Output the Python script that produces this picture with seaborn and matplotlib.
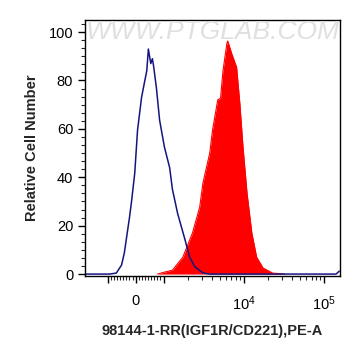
import numpy as np
import pandas as pd
import seaborn as sns
import matplotlib.pyplot as plt
from matplotlib.ticker import MultipleLocator, FixedLocator

# positions on the x axis are in "decade" display units (10^4 -> 4)
control_x = [2.02, 2.30, 2.325, 2.41, 2.475, 2.51, 2.575, 2.60, 2.64, 2.675, 2.725, 2.76, 2.79, 2.81,
             2.84, 2.86, 2.875, 2.91, 2.95, 3.01, 3.075, 3.11, 3.175, 3.26, 3.325, 3.39, 3.49, 3.575,
             5.15, 5.19]
control_y = [0, 0, 0, 0.4, 3.7, 8.7, 23.5, 30, 41.7, 59.5, 73, 79, 84, 93,
             87, 89, 86, 77, 63.6, 52.5, 44, 35, 25, 15, 7, 3, 0.5, 0,
             0, 1.2]

stained_x = [2.925, 3.01, 3.11, 3.24, 3.36, 3.45, 3.49, 3.575, 3.61, 3.675, 3.71, 3.74, 3.79, 3.80,
             3.85, 3.91, 3.95, 3.99, 4.04, 4.10, 4.16, 4.24, 4.36, 4.51]
stained_y = [0, 0.8, 1.6, 7, 17, 27.7, 37.6, 50, 59.5, 72, 72.7, 84, 95.5, 96.3,
             91, 85.5, 70.7, 52.5, 33.5, 17, 7, 2.5, 0.4, 0]

xtick_pos = [2.31, 2.65, 3, 4, 5]
xtick_labels = ['', '0', '', r'$\mathregular{10^4}$', r'$\mathregular{10^5}$']

sns.set_style('ticks')
plt.rcParams['font.family'] = ['Liberation Sans', 'DejaVu Sans']
plt.rcParams['mathtext.fontset'] = 'custom'
plt.rcParams['mathtext.rm'] = 'Liberation Sans'

fig = plt.figure(figsize=(3.61, 3.56), dpi=100)
ax = fig.add_axes([0.2355, 0.2247, 0.7065, 0.7191])

red = pd.DataFrame({'x': stained_x, 'y': stained_y})
blue = pd.DataFrame({'x': control_x, 'y': control_y})

ax.fill_between(red['x'], red['y'], color='#ff0000', lw=0)
sns.lineplot(data=red, x='x', y='y', color='#ff0000', lw=0.8, ax=ax)
sns.lineplot(data=blue, x='x', y='y', color='#15157f', lw=1.1, ax=ax)

ax.set_xlim(2.02, 5.2)
ax.set_ylim(-0.8, 105)

# y ticks
ax.yaxis.set_major_locator(MultipleLocator(20))
ax.yaxis.set_minor_locator(MultipleLocator(20 / 6))

# x ticks: linear region around zero + log decades
ax.set_xticks(xtick_pos)
ax.set_xticklabels(xtick_labels)
minor = list(np.linspace(2.31, 2.65, 10)[1:-1]) + list(np.linspace(2.65, 3, 10)[1:-1])
for d in (3, 4):
    minor += [d + np.log10(m) for m in range(2, 10)]
ax.xaxis.set_minor_locator(FixedLocator(minor))

ax.tick_params(axis='both', which='major', direction='out', length=5, width=1, labelsize=10.5, colors='black')
ax.tick_params(axis='both', which='minor', direction='out', length=3, width=0.8)
ax.tick_params(axis='x', pad=8)
for s in ax.spines.values():
    s.set_color('black')
    s.set_linewidth(1)

ax.set_xlabel('98144-1-RR(IGF1R/CD221),PE-A', fontsize=10.5, fontweight='bold', labelpad=8)
ax.set_ylabel('Relative Cell Number', fontsize=10.5, fontweight='bold', labelpad=7)

ax.text(0.5, 0.955, 'WWW.PTGLAB.COM', transform=ax.transAxes, ha='center', va='center',
        fontsize=19, color='#e0e0e0', style='italic')

fig.savefig('out.png', dpi=100)
